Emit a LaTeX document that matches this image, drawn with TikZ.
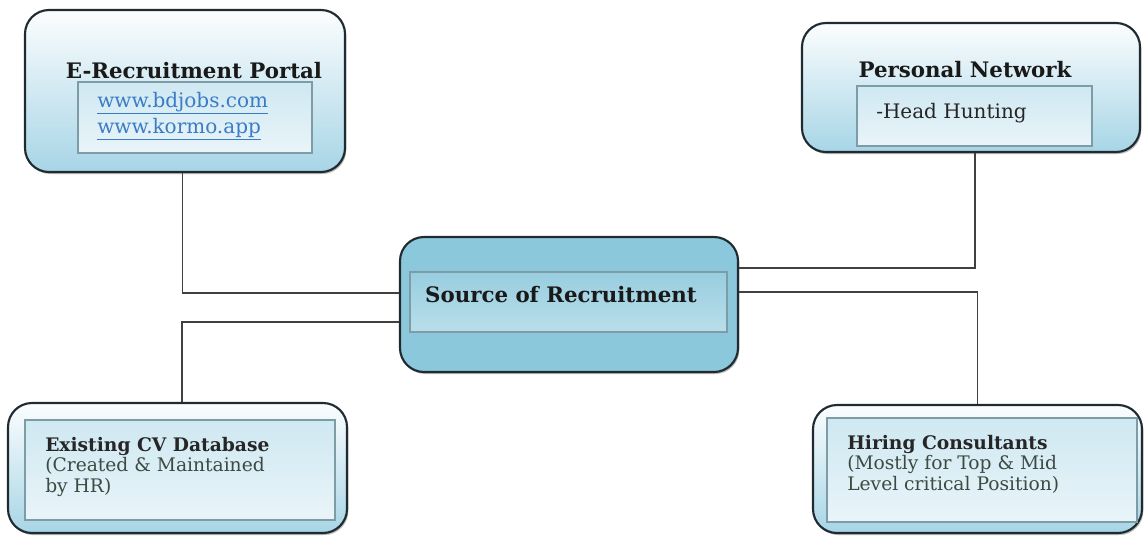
\documentclass[tikz,border=0pt]{standalone}
\usepackage{fontspec}
\setmainfont{DejaVu Serif}
\usepackage{xcolor}
\usepackage{tikz}
\usetikzlibrary{positioning,shadows}

\definecolor{edgedark}{HTML}{1F2B30}
\definecolor{skyfill}{HTML}{A7D5E6}
\definecolor{hubfill}{HTML}{8CC8DC}
\definecolor{panelline}{HTML}{7E9CA6}
\definecolor{linkblue}{HTML}{3B7CC6}
\definecolor{bodytext}{HTML}{3C4A42}

\begin{document}
\begin{tikzpicture}[
    x=0.75pt, y=-0.75pt,
    outerbox/.style={draw=edgedark, line width=1.6pt, rounded corners=18pt,
                     top color=white!96!skyfill, bottom color=skyfill,
                     drop shadow={shadow xshift=1pt, shadow yshift=-1.5pt, fill=black!55}},
    hubbox/.style={outerbox, top color=hubfill, bottom color=hubfill},
    panel/.style={draw=panelline, line width=0.8pt, top color=skyfill!55, bottom color=skyfill!25},
    title/.style={font=\bfseries\fontsize{16}{19}\selectfont, text=black!90},
    body/.style={font=\fontsize{15}{19.5}\selectfont, text=bodytext, align=left},
    smallbody/.style={font=\fontsize{14}{15.2}\selectfont, text=bodytext, align=left},
    link/.style={draw=black!75, line width=1.1pt}
  ]
    \useasboundingbox (0,0) rectangle (1144,536);

    % outer rounded boxes
    \node[outerbox, minimum width=240pt, minimum height=121.5pt] (portal) at (185,91) {};
    \node[outerbox, minimum width=253.5pt, minimum height=96.75pt] (network) at (971,87.5) {};
    \node[hubbox, minimum width=253.5pt, minimum height=101.25pt] (source) at (569,304.5) {};
    \node[outerbox, minimum width=254.25pt, minimum height=97.5pt] (cvbase) at (177.5,468) {};
    \node[outerbox, minimum width=246.75pt, minimum height=96pt] (consult) at (977.5,469) {};

    % inner panels
    \node[panel, minimum width=175.5pt, minimum height=53.25pt] (portalin) at (195,117.5) {};
    \node[panel, minimum width=176.25pt, minimum height=45pt] (networkin) at (974.5,116) {};
    \node[panel, top color=hubfill!90!white, bottom color=hubfill!60!white,
          minimum width=237.75pt, minimum height=45pt] (sourcein) at (568.5,302) {};
    \node[panel, minimum width=232.5pt, minimum height=75pt] (cvbasein) at (180,470) {};
    \node[panel, minimum width=232.5pt, minimum height=78pt] (consultin) at (982,470) {};

    % texts
    \node[title, anchor=base] (portaltxt) at (194,78) {E-Recruitment Portal};
    \node[body, anchor=base west, text=linkblue, inner sep=0pt] (bdjobs) at (97,107) {\underline{www.bdjobs.com}};
    \node[body, anchor=base west, text=linkblue, inner sep=0pt] (kormo) at (97,133) {\underline{www.kormo.app}};
    \node[title, anchor=base] (networktxt) at (965,77) {Personal Network};
    \node[body, anchor=base west, inner sep=0pt, text=black!85] (hunting) at (876,118) {-Head Hunting};
    \node[title, anchor=base] (sourcetxt) at (561,302) {Source of Recruitment};
    % base of a three-line node is its last line
    \node[smallbody, anchor=base west, inner sep=0pt] (cvtxt) at (45,492)
      {\textbf{\color{black!85}Existing CV Database}\\(Created \& Maintained\\by HR)};
    \node[smallbody, anchor=base west, inner sep=0pt] (consulttxt) at (847,490)
      {\textbf{\color{black!85}Hiring Consultants}\\(Mostly for Top \& Mid\\Level critical Position)};

    % connectors
    \draw[link] ([xshift=-2pt]portal.south) |- ([yshift=8.6pt]source.west);
    \draw[link] ([yshift=-13pt]source.west) -| ([xshift=3.4pt]cvbase.north);
    \draw[link] ([xshift=3pt]network.south) |- ([yshift=27.4pt]source.east);
    \draw[link] ([yshift=9.4pt]source.east) -| (consult.north);
\end{tikzpicture}
\end{document}
